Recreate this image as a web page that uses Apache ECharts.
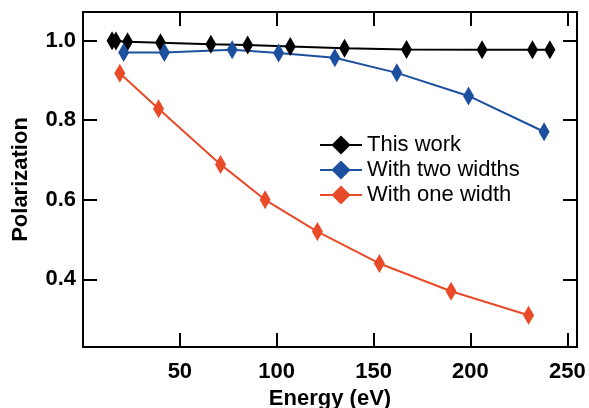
<!DOCTYPE html>
<html>
<head>
<meta charset="utf-8">
<script src="https://cdn.jsdelivr.net/npm/echarts@6/dist/echarts.min.js"></script>
<style>
  html, body { margin: 0; padding: 0; background: #fff; }
  #main { width: 589px; height: 408px; }
</style>
</head>
<body>
<div id="main"></div>
<script>
// data
const thisWorkE = [15, 17, 23, 40, 66, 85, 107, 135, 167, 206, 232, 241]
const thisWorkP = [1.0, 0.999, 0.997, 0.995, 0.991, 0.989, 0.985, 0.981, 0.978, 0.977, 0.977, 0.977]
const twoWidthsE = [21, 42, 77, 101, 130, 162, 199, 238]
const twoWidthsP = [0.97, 0.97, 0.977, 0.969, 0.957, 0.919, 0.861, 0.771]
const oneWidthE = [19, 39, 71, 94, 121, 153, 190, 230]
const oneWidthP = [0.918, 0.829, 0.689, 0.6, 0.52, 0.44, 0.37, 0.31]
const seriesNames = ['This work', 'With two widths', 'With one width']

const pairs = (xs, ys) => xs.map((x, i) => [x, ys[i]])

const font = 'Liberation Sans, Arial, Helvetica, sans-serif'
const xMin = 0, xMax = 255, xStep = 50
const yMin = 0.23, yMax = 1.072
const yTickMin = 0.4, yTickMax = 1.0, yStep = 0.2

// plot box
const gLeft = 83, gTop = 12, gWidth = 494, gHeight = 335
// second grid only carries the y ticks (0.4 .. 1.0), placed on the same scale
const yPix = v => gTop + (yMax - v) / (yMax - yMin) * gHeight
const tTop = yPix(yTickMax)
const tHeight = yPix(yTickMin) - yPix(yTickMax)

const chart = echarts.init(document.getElementById('main'))

const lineSeries = (name, data, color) => ({
  name: name,
  type: 'line',
  data: data,
  symbol: 'diamond',
  symbolSize: [11, 19],
  lineStyle: { color: color, width: 2 },
  itemStyle: { color: color }
})

const black = { color: '#000', width: 2 }
const tick = { show: true, inside: true, length: 14, lineStyle: black }
const boldText = { fontFamily: font, fontSize: 22, fontWeight: 'bold', color: '#000' }

const option = {
  animation: false,
  grid: [
    { left: gLeft, top: gTop, width: gWidth, height: gHeight, outerBoundsMode: 'none' },
    { left: gLeft, top: tTop, width: gWidth, height: tHeight, outerBoundsMode: 'none' }
  ],
  legend: {
    orient: 'vertical',
    left: 314,
    top: 129,
    itemWidth: 42,
    itemHeight: 24,
    itemGap: 3,
    data: seriesNames,
    textStyle: { fontFamily: font, fontSize: 22, color: '#000' }
  },
  xAxis: [
    {
      type: 'value',
      gridIndex: 0,
      min: xMin,
      max: xMax,
      interval: xStep,
      name: 'Energy (eV)',
      nameLocation: 'middle',
      nameGap: 40,
      nameTextStyle: boldText,
      axisLine: { show: true, onZero: false, lineStyle: black },
      axisTick: tick,
      axisLabel: Object.assign({
        margin: 14,
        formatter: v => (v > 0 && v % xStep === 0 ? String(v) : '')
      }, boldText),
      splitLine: { show: false }
    },
    {
      type: 'value',
      gridIndex: 0,
      position: 'top',
      min: xMin,
      max: xMax,
      interval: xStep,
      axisLine: { show: true, onZero: false, lineStyle: black },
      axisTick: tick,
      axisLabel: { show: false },
      splitLine: { show: false }
    },
    {
      type: 'value',
      gridIndex: 1,
      min: xMin,
      max: xMax,
      show: false
    }
  ],
  yAxis: [
    {
      type: 'value',
      gridIndex: 0,
      min: yMin,
      max: yMax,
      name: 'Polarization',
      nameLocation: 'middle',
      nameGap: 51,
      nameTextStyle: boldText,
      axisLine: { show: true, onZero: false, lineStyle: black },
      axisTick: { show: false },
      axisLabel: { show: false },
      splitLine: { show: false }
    },
    {
      type: 'value',
      gridIndex: 0,
      position: 'right',
      min: yMin,
      max: yMax,
      axisLine: { show: true, onZero: false, lineStyle: black },
      axisTick: { show: false },
      axisLabel: { show: false },
      splitLine: { show: false }
    },
    {
      type: 'value',
      gridIndex: 1,
      min: yTickMin,
      max: yTickMax,
      interval: yStep,
      axisLine: { show: false },
      axisTick: tick,
      axisLabel: Object.assign({ margin: 7, formatter: v => v.toFixed(1) }, boldText),
      splitLine: { show: false }
    },
    {
      type: 'value',
      gridIndex: 1,
      position: 'right',
      min: yTickMin,
      max: yTickMax,
      interval: yStep,
      axisLine: { show: false },
      axisTick: tick,
      axisLabel: { show: false },
      splitLine: { show: false }
    }
  ],
  series: [
    lineSeries(seriesNames[0], pairs(thisWorkE, thisWorkP), '#000000'),
    lineSeries(seriesNames[1], pairs(twoWidthsE, twoWidthsP), '#1d4f9f'),
    lineSeries(seriesNames[2], pairs(oneWidthE, oneWidthP), '#e94a28')
  ]
}

chart.setOption(option)
</script>
</body>
</html>
